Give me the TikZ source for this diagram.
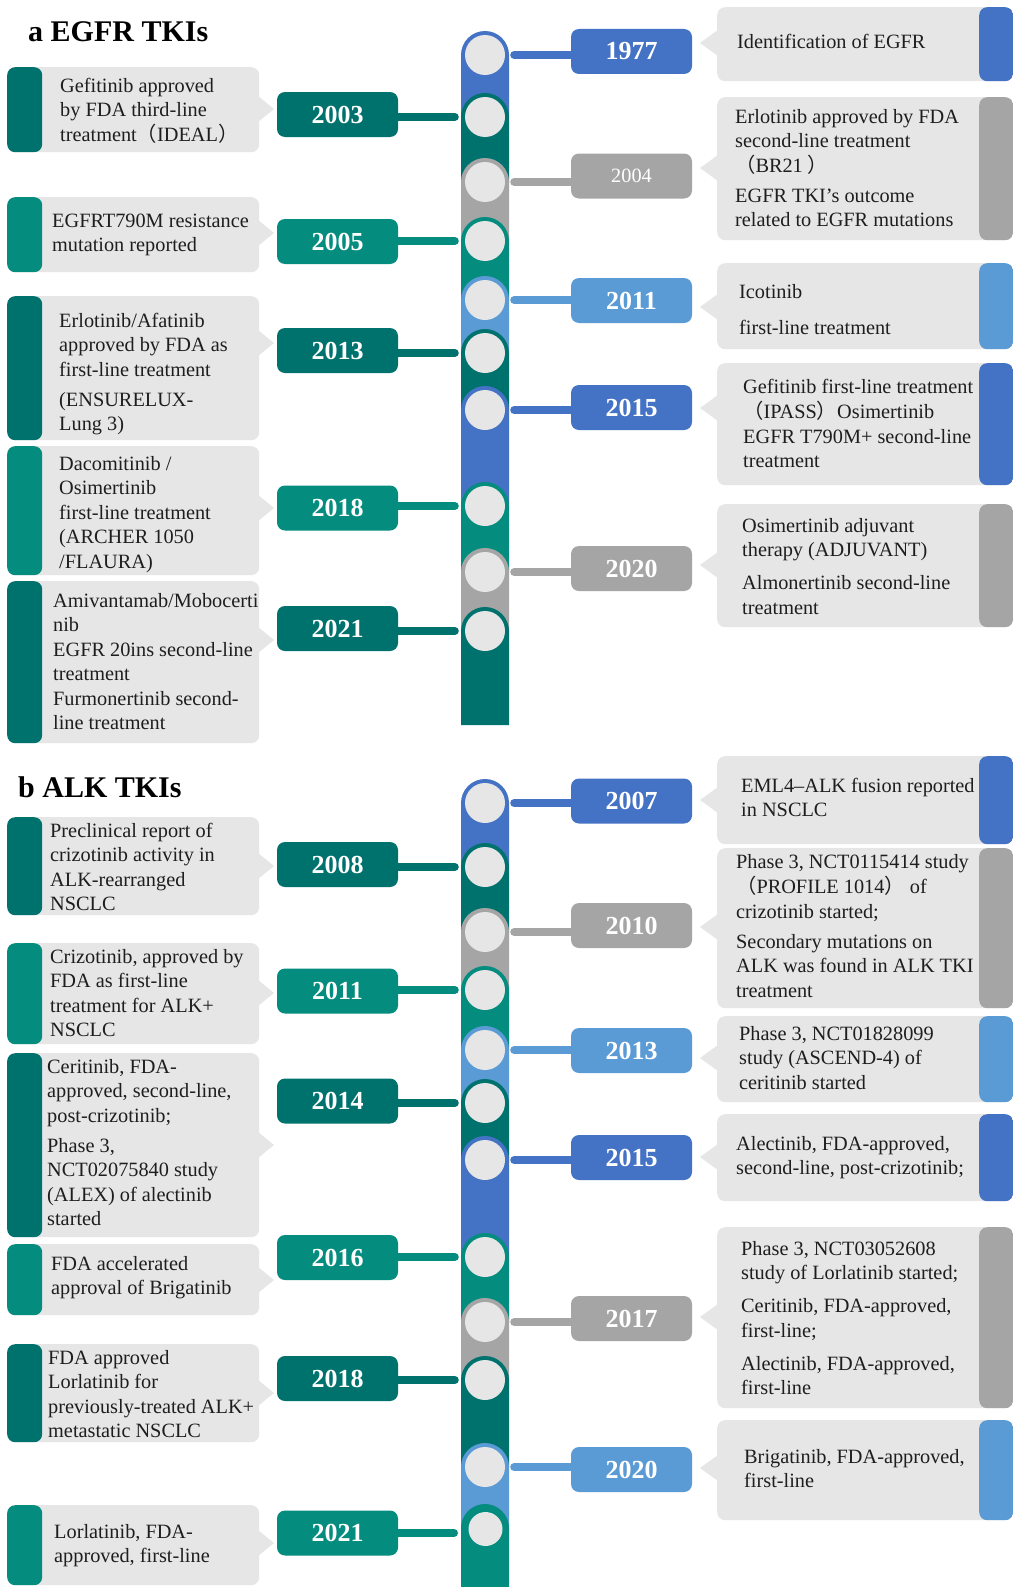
\documentclass[tikz,border=0pt]{standalone}
\usepackage{fontspec}
\setmainfont{Liberation Serif}
\newfontfamily\cjk{Noto Sans CJK SC}
\definecolor{cDT}{RGB}{0,114,110}
\definecolor{cT}{RGB}{4,140,126}
\definecolor{cB}{RGB}{68,114,196}
\definecolor{cLB}{RGB}{91,155,213}
\definecolor{cG}{RGB}{165,165,165}
\definecolor{boxgray}{RGB}{231,230,230}
\definecolor{dotgray}{RGB}{230,230,230}
\definecolor{txtc}{RGB}{30,30,30}
\tikzset{
 yearbox/.style={rectangle, rounded corners=8pt, minimum width=121pt, minimum height=45pt, inner sep=0pt, text=white, font=\bfseries\fontsize{26}{30}\selectfont},
 dot/.style={circle, fill=dotgray, minimum size=40pt, inner sep=0pt},
 conn/.style={line width=8pt, line cap=round},
 tbox/.style={rectangle, rounded corners=8pt, fill=boxgray, inner sep=0pt, anchor=north west},
 txt/.style={align=left, inner sep=0pt, anchor=north west, text=txtc, font=\fontsize{20.3}{24.5}\selectfont},
 head/.style={anchor=base west, inner sep=0pt, text=black, font=\bfseries\fontsize{30}{36}\selectfont}
}
% spine segment: colour, centre y, bottom y
\newcommand\seg[3]{\fill[#1] (461,#3) -- (461,#2) arc[start angle=180,end angle=0,radius=24pt] -- (509,#3) -- cycle;}
% events: id, circle y, year-box y, colour, year
\newcommand\evR[5]{%
 \node[dot] (c#1) at (485,#2) {};
 \node[yearbox, fill=#4] (y#1) at (631.5,#3) {#5};
 \draw[conn,#4] ([xshift=9pt]c#1.east) -- (y#1.west |- c#1.east);}
\newcommand\evL[5]{%
 \node[dot] (c#1) at (485,#2) {};
 \node[yearbox, fill=#4] (y#1) at (337.5,#3) {#5};
 \draw[conn,#4] ([xshift=-10pt]c#1.west) -- (y#1.east |- c#1.west);}
% boxes: id, top, bottom, colour, pointer y, text x, first baseline, text
\newcommand\boxL[8]{%
 \node[tbox, minimum width=252pt, minimum height={#3-#2}, path picture={\fill[#4] (path picture bounding box.north west) rectangle ([xshift=35pt]path picture bounding box.south west);}] (b#1) at (7,#2) {};
 \fill[boxgray] (258,#5-13) -- (274,#5) -- (258,#5+13) -- cycle;
 \node[txt] (t#1) at (#6,#7-17.15) {\strut #8};}
\newcommand\boxR[8]{%
 \node[tbox, minimum width=296pt, minimum height={#3-#2}, path picture={\fill[#4] ([xshift=-34pt]path picture bounding box.north east) rectangle (path picture bounding box.south east);}] (b#1) at (717,#2) {};
 \fill[boxgray] (718,#5-13) -- (700,#5) -- (718,#5+13) -- cycle;
 \node[txt] (t#1) at (#6,#7-17.15) {\strut #8};}
\begin{document}
\begin{tikzpicture}[x=1pt,y=-1pt]
\useasboundingbox (0,0) rectangle (1012,1587);
\fill[white] (0,0) rectangle (1012,1587);
% ---------------- EGFR spine
\seg{cB}{55}{117}
\seg{cDT}{117}{182}
\seg{cG}{182}{241}
\seg{cT}{241}{300}
\seg{cLB}{300}{353}
\seg{cDT}{353}{410}
\seg{cB}{410}{506}
\seg{cT}{506}{572}
\seg{cG}{572}{631}
\seg{cDT}{631}{725}
% ---------------- ALK spine
\seg{cB}{803}{867}
\seg{cDT}{867}{932}
\seg{cG}{932}{990}
\seg{cT}{990}{1050}
\seg{cLB}{1050}{1103}
\seg{cDT}{1103}{1160}
\seg{cB}{1160}{1257}
\seg{cT}{1257}{1322}
\seg{cG}{1322}{1380}
\seg{cDT}{1380}{1467}
\seg{cLB}{1467}{1528}
\seg{cT}{1528}{1595}
% ---------------- headers
\node[head] (ha) at (28,42) {a EGFR TKIs};
\node[head] (hb) at (18,797) {b ALK TKIs};
% ---------------- EGFR events
\evR{E1977}{55}{51.5}{cB}{1977}
\evL{E2003}{117}{114.5}{cDT}{2003}
\evR{E2004}{182}{176}{cG}{{\mdseries\fontsize{20.3}{24}\selectfont 2004}}
\evL{E2005}{241}{241.5}{cT}{2005}
\evR{E2011}{300}{300.5}{cLB}{2011}
\evL{E2013}{353}{350.5}{cDT}{2013}
\evR{E2015}{410}{407.5}{cB}{2015}
\evL{E2018}{506}{508}{cT}{2018}
\evR{E2020}{572}{568.5}{cG}{2020}
\evL{E2021}{631}{628.5}{cDT}{2021}
% ---------------- ALK events
\evR{A2007}{803}{801}{cB}{2007}
\evL{A2008}{867}{864.5}{cDT}{2008}
\evR{A2010}{932}{925.5}{cG}{2010}
\evL{A2011}{990}{991}{cT}{2011}
\evR{A2013}{1050}{1050.5}{cLB}{2013}
\evL{A2014}{1103}{1101}{cDT}{2014}
\evR{A2015}{1160}{1157.5}{cB}{2015}
\evL{A2016}{1257}{1257.5}{cT}{2016}
\evR{A2017}{1322}{1318.5}{cG}{2017}
\evL{A2018}{1380}{1378.5}{cDT}{2018}
\evR{A2020}{1467}{1469.5}{cLB}{2020}
\node[dot, minimum size=34pt] (cA2021) at (485.5,1529) {};
\node[yearbox, fill=cT] (yA2021) at (337.5,1533) {2021};
\coordinate (kA2021) at (454,1533);
\draw[conn,cT] (yA2021.east) -- (kA2021);
% ---------------- EGFR boxes
\boxL{E2003}{67}{152}{cDT}{109}{60}{92}{Gefitinib approved\\by FDA third-line\\treatment{\cjk （}IDEAL{\cjk ）}}
\boxL{E2005}{197}{272}{cT}{233}{52}{227}{EGFRT790M resistance\\mutation reported}
\boxL{E2013}{296}{440}{cDT}{343}{59}{327}{Erlotinib/Afatinib\\approved by FDA as\\first-line treatment\\[5.5pt](ENSURELUX-\\Lung 3)}
\boxL{E2018}{446}{575}{cT}{508}{59}{470}{Dacomitinib /\\Osimertinib\\first-line treatment\\(ARCHER 1050\\/FLAURA)}
\boxL{E2021}{581}{743}{cDT}{640}{53}{607}{Amivantamab/Mobocerti\\nib\\EGFR 20ins second-line\\treatment\\Furmonertinib second-\\line treatment}
\boxR{E1977}{7}{81}{cB}{43}{737}{48}{Identification of EGFR}
\boxR{E2004}{97}{240}{cG}{168}{735}{123}{Erlotinib approved by FDA\\second-line treatment\\{\cjk （}BR21 {\cjk ）}\\[5.5pt]EGFR TKI’s outcome\\related to EGFR mutations}
\boxR{E2011}{263}{349}{cLB}{307}{739}{298}{Icotinib\\[11.5pt]first-line treatment}
\boxR{E2015}{363}{485}{cB}{408}{743}{393}{Gefitinib first-line treatment\\{\cjk （}IPASS{\cjk ）}Osimertinib\\EGFR T790M+ second-line\\treatment}
\boxR{E2020}{504}{627}{cG}{565}{742}{532}{Osimertinib adjuvant\\therapy (ADJUVANT)\\[8.5pt]Almonertinib second-line\\treatment}
% ---------------- ALK boxes
\boxL{A2008}{817}{915}{cDT}{866}{50}{837}{Preclinical report of\\crizotinib activity in\\ALK-rearranged\\NSCLC}
\boxL{A2011}{943}{1044}{cT}{993}{50}{963}{Crizotinib, approved by\\FDA as first-line\\treatment for ALK+\\NSCLC}
\boxL{A2014}{1053}{1237}{cDT}{1145}{47}{1073}{Ceritinib, FDA-\\approved, second-line,\\post-crizotinib;\\[5.5pt]Phase 3,\\NCT02075840 study\\(ALEX) of alectinib\\started}
\boxL{A2016}{1244}{1315}{cT}{1280}{51}{1270}{FDA accelerated\\approval of Brigatinib}
\boxL{A2018}{1344}{1442}{cDT}{1393}{48}{1364}{FDA approved\\Lorlatinib for\\previously-treated ALK+\\metastatic NSCLC}
\boxL{A2021}{1505}{1585}{cT}{1543}{54}{1538}{Lorlatinib, FDA-\\approved, first-line}
\boxR{A2007}{756}{844}{cB}{800}{741}{792}{EML4–ALK fusion reported\\in NSCLC}
\boxR{A2010}{848}{1008}{cG}{927}{736}{868}{Phase 3, NCT0115414 study\\{\cjk （}PROFILE 1014{\cjk ）} of\\crizotinib started;\\[5.5pt]Secondary mutations on\\ALK was found in ALK TKI\\treatment}
\boxR{A2013}{1016}{1102}{cLB}{1058}{739}{1040}{Phase 3, NCT01828099\\study (ASCEND-4) of\\ceritinib started}
\boxR{A2015}{1114}{1201}{cB}{1157}{736}{1150}{Alectinib, FDA-approved,\\second-line, post-crizotinib;}
\boxR{A2017}{1227}{1408}{cG}{1317}{741}{1255}{Phase 3, NCT03052608\\study of Lorlatinib started;\\[8.5pt]Ceritinib, FDA-approved,\\first-line;\\[8.5pt]Alectinib, FDA-approved,\\first-line}
\boxR{A2020}{1420}{1520}{cLB}{1468}{744}{1463}{Brigatinib, FDA-approved,\\first-line}
\end{tikzpicture}
\end{document}
